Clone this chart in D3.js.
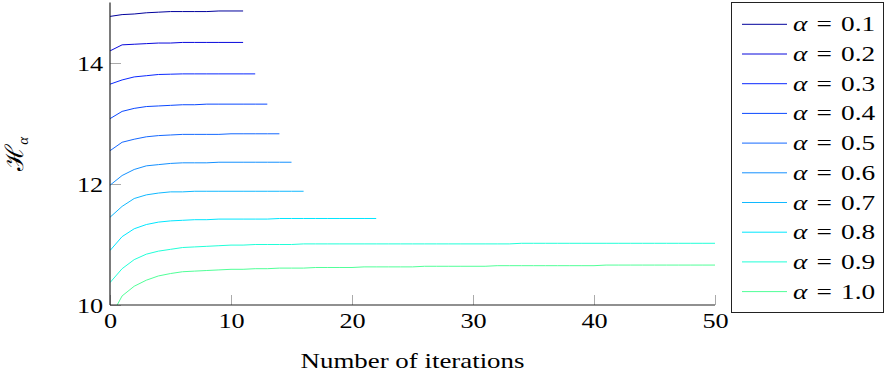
<!DOCTYPE html>
<html>
<head>
<meta charset="utf-8">
<script src="https://cdn.jsdelivr.net/npm/d3@7"></script>
<style>
  body { margin: 0; background: #fff; }
  svg { display: block; }
  text { font-family: "Liberation Serif", "DejaVu Serif", serif; fill: #000; }
</style>
</head>
<body>
<script>
const width = 885;
const height = 379;

// alpha values and the value of H_alpha at each iteration
const alphas = ["0.1", "0.2", "0.3", "0.4", "0.5", "0.6", "0.7", "0.8", "0.9", "1.0"];

const s01 = [14.77, 14.80, 14.81, 14.83, 14.84, 14.85, 14.85, 14.85, 14.85, 14.86, 14.86, 14.86];
const s02 = [14.20, 14.30, 14.31, 14.32, 14.33, 14.33, 14.34, 14.34, 14.34, 14.34, 14.34, 14.34];
const s03 = [13.65, 13.72, 13.77, 13.79, 13.81, 13.815, 13.82, 13.82, 13.82, 13.82, 13.82, 13.82, 13.82];
const s04 = [13.08, 13.20, 13.25, 13.28, 13.29, 13.30, 13.31, 13.31, 13.32, 13.32, 13.32, 13.32, 13.32, 13.32];
const s05 = [12.55, 12.69, 12.74, 12.78, 12.80, 12.81, 12.82, 12.82, 12.82, 12.82, 12.83, 12.83, 12.83, 12.83, 12.83];
const s06 = [11.98, 12.14, 12.24, 12.30, 12.32, 12.34, 12.35, 12.35, 12.35, 12.36, 12.36, 12.36, 12.36, 12.36, 12.36, 12.36];
const s07 = [11.45, 11.63, 11.76, 11.82, 11.85, 11.87, 11.87, 11.88, 11.88, 11.88, 11.88, 11.88, 11.88, 11.88, 11.88, 11.88, 11.88];
const s08 = [10.90, 11.13, 11.26, 11.33, 11.37, 11.39, 11.40, 11.41, 11.41, 11.42, 11.42, 11.42, 11.42, 11.42, 11.43, 11.43,
             11.43, 11.43, 11.43, 11.43, 11.43, 11.43, 11.43];
const s09 = [10.37, 10.60, 10.75, 10.84, 10.89, 10.92, 10.95, 10.96, 10.97, 10.98, 10.99, 10.99, 11.00, 11.00, 11.00, 11.00,
             11.01, 11.01, 11.01, 11.01, 11.01, 11.01, 11.01, 11.01, 11.01, 11.01, 11.01, 11.01, 11.01, 11.01, 11.01, 11.01,
             11.01, 11.01, 11.02, 11.02, 11.02, 11.02, 11.02, 11.02, 11.02, 11.02, 11.02, 11.02, 11.02, 11.02, 11.02, 11.02,
             11.02, 11.02, 11.02];
const s10 = [9.78, 10.15, 10.31, 10.41, 10.48, 10.52, 10.55, 10.56, 10.57, 10.58, 10.59, 10.59, 10.60, 10.60, 10.61, 10.61,
             10.61, 10.62, 10.62, 10.62, 10.62, 10.63, 10.63, 10.63, 10.63, 10.63, 10.64, 10.64, 10.64, 10.64, 10.64, 10.64,
             10.65, 10.65, 10.65, 10.65, 10.65, 10.65, 10.65, 10.65, 10.65, 10.66, 10.66, 10.66, 10.66, 10.66, 10.66, 10.66,
             10.66, 10.66, 10.66];
const series = [s01, s02, s03, s04, s05, s06, s07, s08, s09, s10];

const colors = ["#00009c", "#0808dc", "#0a28ff", "#0a48ff", "#1468ff", "#1490ff", "#10b8ff", "#00e6ff", "#20ffd8", "#50ff98"];

const xTicks = [0, 10, 20, 30, 40, 50];
const yTicks = [10, 12, 14];

const margin = { left: 110, right: 170, top: 2.5, bottom: 74 };
const stretch = 1.25; // the source figure is wider than it is tall

const x = d3.scaleLinear().domain([0, 50]).range([margin.left, width - margin.right]);
const y = d3.scaleLinear().domain([10, 15]).range([height - margin.bottom, margin.top]);

const svg = d3.select("body").append("svg")
    .attr("width", width)
    .attr("height", height);

svg.append("defs").append("clipPath")
    .attr("id", "plot")
    .append("rect")
    .attr("x", x(0)).attr("y", y(15))
    .attr("width", x(50) - x(0)).attr("height", y(10) - y(15));

// axes
const xAxis = svg.append("g")
    .attr("transform", `translate(0,${y(10)})`)
    .call(d3.axisBottom(x).tickValues(xTicks).tickFormat(d3.format("d"))
        .tickSizeInner(-10).tickSizeOuter(0).tickPadding(8));
const yAxis = svg.append("g")
    .attr("transform", `translate(${x(0)},0)`)
    .call(d3.axisLeft(y).tickValues(yTicks).tickFormat(d3.format("d"))
        .tickSizeInner(-11).tickSizeOuter(0).tickPadding(5.5));

[xAxis, yAxis].forEach(g => {
    g.select(".domain").remove();
    g.selectAll(".tick line").attr("stroke", "#aaa").attr("stroke-width", 1);
    g.selectAll(".tick text")
        .attr("font-size", 21)
        .attr("transform", `scale(${stretch},1)`)
        .style("font-family", "'Liberation Serif', serif");
});
yAxis.selectAll(".tick text").attr("dy", "0.34em");

const lineGen = d3.line()
    .x((d, i) => x(i))
    .y(d => y(d));

svg.append("g")
    .attr("clip-path", "url(#plot)")
    .selectAll("path")
    .data(series)
    .join("path")
    .attr("fill", "none")
    .attr("stroke", (d, i) => colors[i])
    .attr("stroke-width", 1)
    .attr("d", lineGen);

svg.append("line")
    .attr("x1", x(0)).attr("x2", x(0))
    .attr("y1", y(15)).attr("y2", y(10))
    .attr("stroke", "#222").attr("stroke-width", 1.2);
svg.append("line")
    .attr("x1", x(0)).attr("x2", x(50))
    .attr("y1", y(10)).attr("y2", y(10))
    .attr("stroke", "#222").attr("stroke-width", 1.2);

// axis labels
svg.append("text")
    .attr("transform", `translate(${(x(0) + x(50)) / 2},368) scale(1.28,1)`)
    .attr("text-anchor", "middle")
    .attr("font-size", 21)
    .text("Number of iterations");

const yl = svg.append("text")
    .attr("transform", `translate(23,${y(12.5)}) rotate(-90)`)
    .attr("text-anchor", "middle")
    .attr("font-size", 25);
yl.append("tspan").text("ℋ");
yl.append("tspan").attr("font-size", 15).attr("dy", 5).attr("font-style", "italic").text("α");

// legend
const legend = svg.append("g");
legend.append("rect")
    .attr("x", 731.5).attr("y", 2.5)
    .attr("width", 152).attr("height", 310)
    .attr("fill", "#fff").attr("stroke", "#222").attr("stroke-width", 1);

const item = legend.selectAll("g.item")
    .data(alphas)
    .join("g")
    .attr("class", "item")
    .attr("transform", (d, i) => `translate(0,${24.3 + i * 29.7})`);
item.append("line")
    .attr("x1", 742).attr("x2", 787)
    .attr("stroke", (d, i) => colors[i]).attr("stroke-width", 1);
const lt = item.append("text")
    .attr("transform", "translate(793,7) scale(1.3,1)")
    .attr("font-size", 21);
lt.append("tspan").attr("x", 0).attr("font-style", "italic").text("α");
lt.append("tspan").attr("x", 18).text("=");
lt.append("tspan").attr("x", 37).text(d => d);
</script>
</body>
</html>
